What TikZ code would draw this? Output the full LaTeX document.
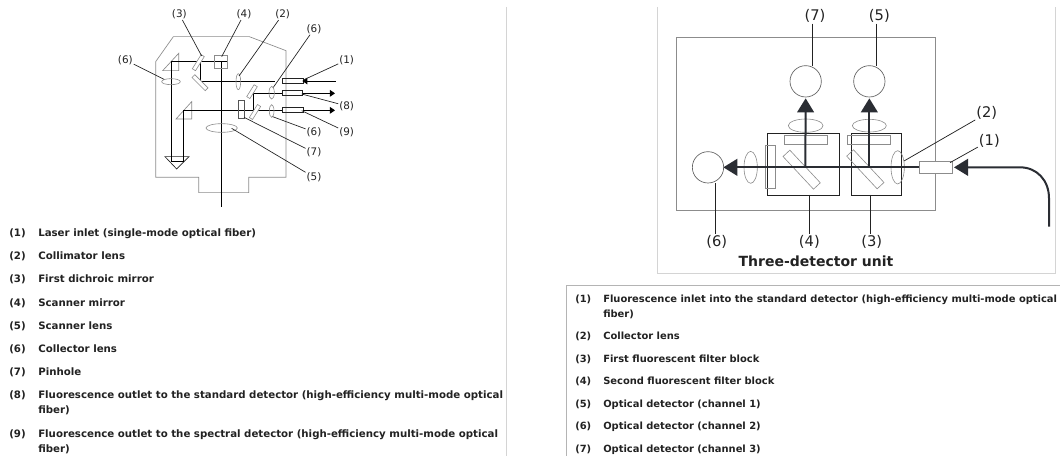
\documentclass[tikz,border=0pt]{standalone}
\usepackage{fontspec}
\setmainfont{DejaVu Sans}
\usetikzlibrary{arrows.meta,shapes.geometric}
\definecolor{ink}{HTML}{222222}
\definecolor{beam}{HTML}{2A2D33}
\definecolor{shell}{HTML}{8C8C8C}
\definecolor{rule}{HTML}{D4D4D4}
\tikzset{
  item/.style={anchor=base west,inner sep=0pt,text=ink,font=\fontsize{7.66}{10}\bfseries},
  itemr/.style={anchor=base west,inner sep=0pt,text=ink,font=\fontsize{7.44}{10}\bfseries},
  lab/.style={inner sep=0.6pt,text=ink,font=\fontsize{7.8}{9}\selectfont},
  labr/.style={inner sep=0.6pt,text=ink,font=\fontsize{11}{13}\selectfont},
  leader/.style={draw=ink,line width=0.5pt},
  leaderr/.style={draw=ink,line width=0.55pt},
  thin beam/.style={draw=black,line width=0.5pt},
  thick beam/.style={draw=beam,line width=1.5pt},
  part/.style={draw=shell,line width=0.45pt,inner sep=0pt,outer sep=0pt,rectangle},
  lens/.style={draw=shell,line width=0.45pt,inner sep=0pt,outer sep=0pt,ellipse},
  box/.style={draw=ink,line width=0.7pt,inner sep=0pt,outer sep=0pt,rectangle},
  det/.style={draw=shell!70!black,line width=0.5pt,inner sep=0pt,outer sep=0pt,circle,minimum size=23.5pt},
  tip/.style={-{Triangle[length=3.8pt,width=5pt]}},
  bigtip/.style={-{Triangle[length=10.5pt,width=12.5pt]}},
}
\begin{document}
\begin{tikzpicture}[x=0.75pt,y=-0.75pt]
\useasboundingbox (0,0) rectangle (1060,456);
\fill[white] (0,0) rectangle (1060,456);
% page rules
\coordinate (dt) at (506.5,7); \coordinate (db) at (506.5,456);
\draw[rule,line width=0.6pt] (dt) -- (db);
\coordinate (c1) at (657,7); \coordinate (c2) at (657,273); \coordinate (c3) at (1055.5,273); \coordinate (c4) at (1055.5,7);
\draw[rule,line width=0.6pt] (c1) -- (c2) -- (c3) -- (c4);
\coordinate (t1) at (566.5,456); \coordinate (t2) at (566.5,285); \coordinate (t3) at (1060,285);
\draw[rule!85!black,line width=0.6pt] (t1) -- (t2) -- (t3);

% ---------- left diagram
\begin{scope}[shift={(90,0)},x=0.25pt,y=-0.25pt]
\coordinate (o1) at (197,185); \coordinate (o2) at (250,110); \coordinate (o3) at (478,110); \coordinate (o4) at (588,152);
\coordinate (o5) at (588,532); \coordinate (o6) at (476,532); \coordinate (o7) at (476,578); \coordinate (o8) at (326,578); \coordinate (o9) at (326,532); \coordinate (o10) at (197,532);
\draw[draw=shell,line width=0.5pt] (o1) -- (o2) -- (o3) -- (o4) -- (o5) -- (o6) -- (o7) -- (o8) -- (o9) -- (o10) -- cycle;
% prisms
\coordinate (p1) at (218,212); \coordinate (p2) at (266,160); \coordinate (p3) at (266,212);
\draw[draw=shell,line width=0.5pt] (p1) -- (p2) -- (p3) -- cycle;
\coordinate (q1) at (258,357); \coordinate (q2) at (305,305); \coordinate (q3) at (305,357);
\draw[draw=shell,line width=0.5pt] (q1) -- (q2) -- (q3) -- cycle;
\coordinate (r1) at (225,470); \coordinate (r2) at (297,470); \coordinate (r3) at (260,507);
\draw[draw=ink,line width=0.5pt] (r1) -- (r2) -- (r3) -- cycle;
% beams
\coordinate (b1) at (243,185); \coordinate (b2) at (332,185); \coordinate (b3) at (332,243); \coordinate (b4) at (555,243);
\coordinate (b5) at (243,485); \coordinate (b6) at (280,485); \coordinate (b7) at (280,331); \coordinate (b8) at (578,331);
\coordinate (b9) at (412,185);
\coordinate (b10) at (395,185); \coordinate (b11) at (395,622);
\coordinate (b12) at (490,331); \coordinate (b13) at (490,280); \coordinate (b14) at (578,280);
\draw[thin beam] (b9) -- (b2) -- (b1) -- (b5) -- (b6) -- (b7) -- (b8);
\draw[thin beam] (b2) -- (b3) -- (b4);
\draw[thin beam] (b10) -- (b11);
\draw[thin beam] (b12) -- (b13) -- (b14);
% parts
\node[part,minimum width=9.75pt,minimum height=9.75pt] (sm) at (393.5,185) {};
\node[part,minimum width=12.5pt,minimum height=2.8pt,fill=white,rotate=58] (dm) at (325,188) {};
\node[part,minimum width=14pt,minimum height=3pt,fill=white,rotate=-45] (rm) at (330,248) {};
\node[part,minimum width=10.5pt,minimum height=2.8pt,fill=white,rotate=58] (m2) at (486,275) {};
\node[part,minimum width=11.5pt,minimum height=2.8pt,fill=white,rotate=58] (m3) at (495,336) {};
\node[part,draw=shell!60!black,minimum width=4.5pt,minimum height=13.75pt] (ph) at (454,327) {};
\node[lens,minimum width=14pt,minimum height=4.5pt] (lL) at (243,245) {};
\node[lens,minimum width=3.5pt,minimum height=12pt] (lC) at (445,245) {};
\node[lens,minimum width=4pt,minimum height=9.5pt] (lA) at (545,278) {};
\node[lens,minimum width=3.5pt,minimum height=9.5pt] (lB) at (545,333) {};
\node[lens,minimum width=23.5pt,minimum height=6.5pt] (lS) at (395,384) {};
\node[box,line width=0.45pt,minimum width=15.5pt,minimum height=3.8pt] (f1) at (609,242) {};
\node[box,line width=0.45pt,minimum width=15pt,minimum height=4.2pt] (f8) at (608,278) {};
\node[box,line width=0.45pt,minimum width=15.5pt,minimum height=3.8pt] (f9) at (609,330) {};
% fibre arrows
\coordinate (a1) at (737,243); \coordinate (a2) at (637,243);
\draw[thin beam,line width=0.7pt,tip] (a1) -- (a2);
\coordinate (a8s) at (640,280); \coordinate (a8) at (735,280);
\draw[thin beam,line width=0.7pt,tip] (a8s) -- (a8);
\coordinate (a9s) at (640,331); \coordinate (a9) at (735,331);
\draw[thin beam,line width=0.7pt,tip] (a9s) -- (a9);
% labels
\node[lab] (l3) at (268,43) {(3)};
\node[lab] (l4) at (462,43) {(4)};
\node[lab] (l2) at (578,43) {(2)};
\node[lab] (l6a) at (672,87) {(6)};
\node[lab] (l1) at (770,180) {(1)};
\node[lab] (l6b) at (106,180) {(6)};
\node[lab] (l8) at (770,318) {(8)};
\node[lab] (l9) at (770,396) {(9)};
\node[lab] (l6c) at (672,396) {(6)};
\node[lab] (l7) at (672,458) {(7)};
\node[lab] (l5) at (672,532) {(5)};
\coordinate (e3) at (335,168); \coordinate (e4) at (395,170); \coordinate (e2) at (447,228);
\coordinate (e6a) at (550,262); \coordinate (e1) at (640,240); \coordinate (e6b) at (222,238);
\coordinate (e8) at (635,282); \coordinate (e9) at (635,332); \coordinate (e6c) at (548,350);
\coordinate (e7) at (462,352); \coordinate (e5) at (425,385);
\draw[leader] (l3) -- (e3);
\draw[leader] (l4) -- (e4);
\draw[leader] (l2) -- (e2);
\draw[leader] (l6a) -- (e6a);
\draw[leader] (l1) -- (e1);
\draw[leader] (l6b) -- (e6b);
\draw[leader] (l8) -- (e8);
\draw[leader] (l9) -- (e9);
\draw[leader] (l6c) -- (e6c);
\draw[leader] (l7) -- (e7);
\draw[leader] (l5) -- (e5);
\end{scope}

% ---------- right diagram
\begin{scope}[shift={(650,0)},x=0.25pt,y=-0.25pt]
\node[part,minimum width=194.5pt,minimum height=130pt,line width=0.55pt] (unit) at (467,372) {};
\node[box,minimum width=53.75pt,minimum height=46.5pt] (blk4) at (459.5,492) {};
\node[box,minimum width=37.25pt,minimum height=46.5pt] (blk3) at (678.5,492) {};
\node[det] (d7) at (467,244) {};
\node[det] (d5) at (658,244) {};
\node[det] (d6) at (174,502) {};
\node[lens,minimum width=26pt,minimum height=10pt] (lt4) at (467,377) {};
\node[lens,minimum width=25.5pt,minimum height=9.5pt] (lt3) at (658,377) {};
\node[lens,minimum width=10pt,minimum height=24pt] (ll) at (302,502) {};
\node[lens,minimum width=10pt,minimum height=25pt] (lr) at (743,502) {};
\node[part,minimum width=32.25pt,minimum height=6.5pt] (ft4) at (466.5,419) {};
\node[part,minimum width=32.5pt,minimum height=6.5pt] (ft3) at (657,419) {};
\node[part,minimum width=7pt,minimum height=32pt] (fl) at (361,501) {};
\node[part,minimum width=33.5pt,minimum height=7pt,rotate=-47] (md4) at (455,509) {};
\node[part,minimum width=33.5pt,minimum height=7pt,rotate=-47] (md3) at (646,508) {};
% beams
\coordinate (in0) at (810,502); \coordinate (in1) at (220,502);
\draw[thick beam,bigtip] (in0) -- (in1);
\coordinate (u1) at (466,502); \coordinate (u2) at (467,295);
\coordinate (v1) at (658,502); \coordinate (v2) at (658,295);
\draw[thick beam,bigtip] (u1) -- (u2);
\draw[thick beam,bigtip] (v1) -- (v2);
\coordinate (fb) at (1197,680); \coordinate (fm) at (1197,595); \coordinate (fc) at (1110,502); \coordinate (ft) at (912,502);
\draw[thick beam,bigtip] (fb) -- (fm) .. controls (1197,540) and (1160,502) .. (fc) -- (ft);
\node[part,fill=white,minimum width=25pt,minimum height=9.25pt] (fr) at (858,501.5) {};
% labels
\node[labr] (k7) at (495,48) {(7)};
\node[labr] (k5) at (688,48) {(5)};
\node[labr] (k2) at (1010,340) {(2)};
\node[labr] (k1) at (1018,422) {(1)};
\node[labr] (k6) at (200,725) {(6)};
\node[labr] (k4) at (478,725) {(4)};
\node[labr] (k3) at (665,725) {(3)};
\node[inner sep=0pt,text=ink,font=\fontsize{10.5}{12}\bfseries] (cap) at (498,785) {Three-detector unit};
\coordinate (g7) at (486,197); \coordinate (g5) at (678,197); \coordinate (g2) at (762,483); \coordinate (g1) at (900,488);
\coordinate (g6) at (195,550); \coordinate (g4) at (477,585); \coordinate (g3) at (662,585);
\draw[leaderr] (k7.south -| g7) -- (g7);
\draw[leaderr] (k5.south -| g5) -- (g5);
\draw[leaderr] (k2) -- (g2);
\draw[leaderr] (k1) -- (g1);
\draw[leaderr] (g6) -- (k6.north -| g6);
\draw[leaderr] (g4) -- (k4.north -| g4);
\draw[leaderr] (g3) -- (k3.north -| g3);
\end{scope}

% ---------- left list
\node[item] (a1n) at (9,236) {(1)}; \node[item] (a1t) at (38,236) {Laser inlet (single-mode optical fiber)};
\node[item] (a2n) at (9,259) {(2)}; \node[item] (a2t) at (38,259) {Collimator lens};
\node[item] (a3n) at (9,282.5) {(3)}; \node[item] (a3t) at (38,282.5) {First dichroic mirror};
\node[item] (a4n) at (9,306) {(4)}; \node[item] (a4t) at (38,306) {Scanner mirror};
\node[item] (a5n) at (9,329) {(5)}; \node[item] (a5t) at (38,329) {Scanner lens};
\node[item] (a6n) at (9,352) {(6)}; \node[item] (a6t) at (38,352) {Collector lens};
\node[item] (a7n) at (9,375) {(7)}; \node[item] (a7t) at (38,375) {Pinhole};
\node[item] (a8n) at (9,398) {(8)}; \node[item] (a8t) at (38,398) {Fluorescence outlet to the standard detector (high-efficiency multi-mode optical};
\node[item] (a8u) at (38,413) {fiber)};
\node[item] (a9n) at (9,437) {(9)}; \node[item] (a9t) at (38,437) {Fluorescence outlet to the spectral detector (high-efficiency multi-mode optical};
\node[item] (a9u) at (38,452) {fiber)};

% ---------- right list
\node[itemr] (b1n) at (575,302) {(1)}; \node[itemr] (b1t) at (603,302) {Fluorescence inlet into the standard detector (high-efficiency multi-mode optical};
\node[itemr] (b1u) at (603,317) {fiber)};
\node[itemr] (b2n) at (575,339.5) {(2)}; \node[itemr] (b2t) at (603,339.5) {Collector lens};
\node[itemr] (b3n) at (575,362) {(3)}; \node[itemr] (b3t) at (603,362) {First fluorescent filter block};
\node[itemr] (b4n) at (575,384) {(4)}; \node[itemr] (b4t) at (603,384) {Second fluorescent filter block};
\node[itemr] (b5n) at (575,407) {(5)}; \node[itemr] (b5t) at (603,407) {Optical detector (channel 1)};
\node[itemr] (b6n) at (575,429) {(6)}; \node[itemr] (b6t) at (603,429) {Optical detector (channel 2)};
\node[itemr] (b7n) at (575,452) {(7)}; \node[itemr] (b7t) at (603,452) {Optical detector (channel 3)};
\end{tikzpicture}
\end{document}
